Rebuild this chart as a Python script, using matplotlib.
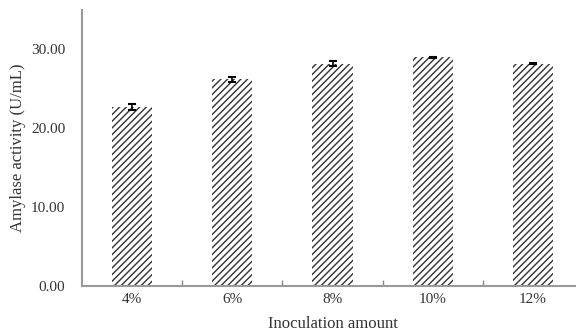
import matplotlib
matplotlib.use("Agg")
import matplotlib.pyplot as plt
from matplotlib.ticker import FixedLocator

plt.rcParams['font.family'] = ['Liberation Serif', 'DejaVu Serif']
plt.rcParams['hatch.linewidth'] = 1.0
plt.rcParams['hatch.color'] = '#333333'

# data
categories = ['4%', '6%', '8%', '10%', '12%']
activity = [22.7, 26.2, 28.2, 29.0, 28.2]
errors = [0.4, 0.3, 0.3, 0.1, 0.1]

fig = plt.figure(figsize=(5.76, 3.32), dpi=100)
ax = fig.add_axes([82/576, 46/332, 501/576, 276/332])

x = range(len(categories))
ax.bar(x, activity, width=0.4, color='white', edgecolor='#333333',
       linewidth=0, hatch='/////')
ax.errorbar(x, activity, yerr=errors, fmt='none', ecolor='black',
            elinewidth=1.2, capsize=3, capthick=1.5)

ax.set_xlim(-0.5, len(categories) - 0.5)
ax.set_ylim(0, 35)
ax.set_yticks([0, 10, 20, 30])
ax.set_yticklabels(['0.00', '10.00', '20.00', '30.00'])
ax.set_xticks(list(x))
ax.set_xticklabels(categories)
ax.xaxis.set_minor_locator(FixedLocator([0.5, 1.5, 2.5, 3.5]))
ax.tick_params(axis='x', which='major', length=0, pad=5, labelsize=11, labelcolor='#333333')
ax.tick_params(axis='x', which='minor', direction='in', length=4, color='#888888', width=1)
ax.tick_params(axis='y', length=0, pad=12, labelsize=11, labelcolor='#333333')

for s in ['top', 'right']:
    ax.spines[s].set_visible(False)
for s in ['left', 'bottom']:
    ax.spines[s].set_color('#999999')
    ax.spines[s].set_linewidth(1.5)

ax.set_xlabel('Inoculation amount', fontsize=12, color='#333333', labelpad=7)
ax.set_ylabel('Amylase activity (U/mL)', fontsize=12, color='#333333', labelpad=4)

fig.savefig('out.png', dpi=100)
